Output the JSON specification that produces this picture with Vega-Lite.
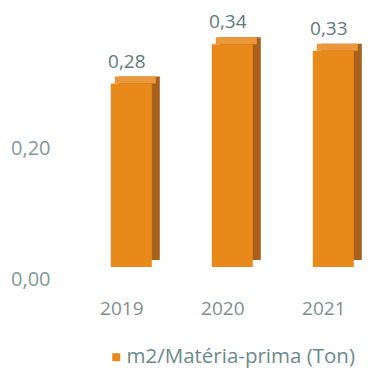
{
  "$schema": "https://vega.github.io/schema/vega-lite/v6.json",
  "width": 284,
  "height": 262,
  "autosize": "none",
  "padding": {"left": 60, "top": 5, "right": 25, "bottom": 101},
  "background": "white",
  "config": {
    "view": {"stroke": null},
    "font": "Open Sans",
    "locale": {"number": {"decimal": ",", "thousands": ".", "grouping": [3], "currency": ["", " €"]}}
  },
  "data": {
    "values": [
      {"ano": "2019", "valor": 0.28, "serie": "m2/Matéria-prima (Ton)"},
      {"ano": "2020", "valor": 0.34, "serie": "m2/Matéria-prima (Ton)"},
      {"ano": "2021", "valor": 0.33, "serie": "m2/Matéria-prima (Ton)"}
    ]
  },
  "encoding": {
    "x": {
      "field": "ano", "type": "ordinal", "title": null,
      "scale": {"paddingInner": 0.6, "paddingOuter": 0.206, "align": 1},
      "axis": {"domain": false, "ticks": false, "tickSize": 0, "labelPadding": 32, "labelFontSize": 19, "labelColor": "#7f8e8e", "labelAngle": 0, "grid": false}
    },
    "y": {
      "field": "valor", "type": "quantitative", "title": null,
      "scale": {"domain": [0, 0.4], "nice": false},
      "axis": {"values": [0, 0.2], "format": ".2f", "domain": false, "ticks": false, "tickSize": 0, "labelPadding": 10, "labelOffset": 12, "labelFontSize": 20, "labelColor": "#7f9a9a", "grid": false}
    }
  },
  "layer": [
    {
      "mark": {"type": "bar", "width": 41, "xOffset": 17.5, "yOffset": -7, "color": "#a8601c"}
    },
    {
      "mark": {"type": "tick", "size": 41, "thickness": 7, "xOffset": 13.5, "yOffset": -3.5, "color": "#ea983a", "opacity": 1}
    },
    {
      "mark": {"type": "bar", "width": 41, "xOffset": 9.5},
      "encoding": {
        "color": {
          "field": "serie", "type": "nominal",
          "scale": {"range": ["#e8891b"]},
          "legend": {"title": null, "orient": "none", "legendX": 46, "legendY": 342, "symbolType": "square", "symbolSize": 64, "labelOffset": 0, "labelFontSize": 20.5, "labelColor": "#6a8a8a", "labelLimit": 400}
        }
      }
    },
    {
      "mark": {"type": "text", "dy": -22, "xOffset": 5, "fontSize": 19, "color": "#5f7a7a", "baseline": "middle"},
      "encoding": {"text": {"field": "valor", "type": "quantitative", "format": ".2f"}}
    }
  ]
}
